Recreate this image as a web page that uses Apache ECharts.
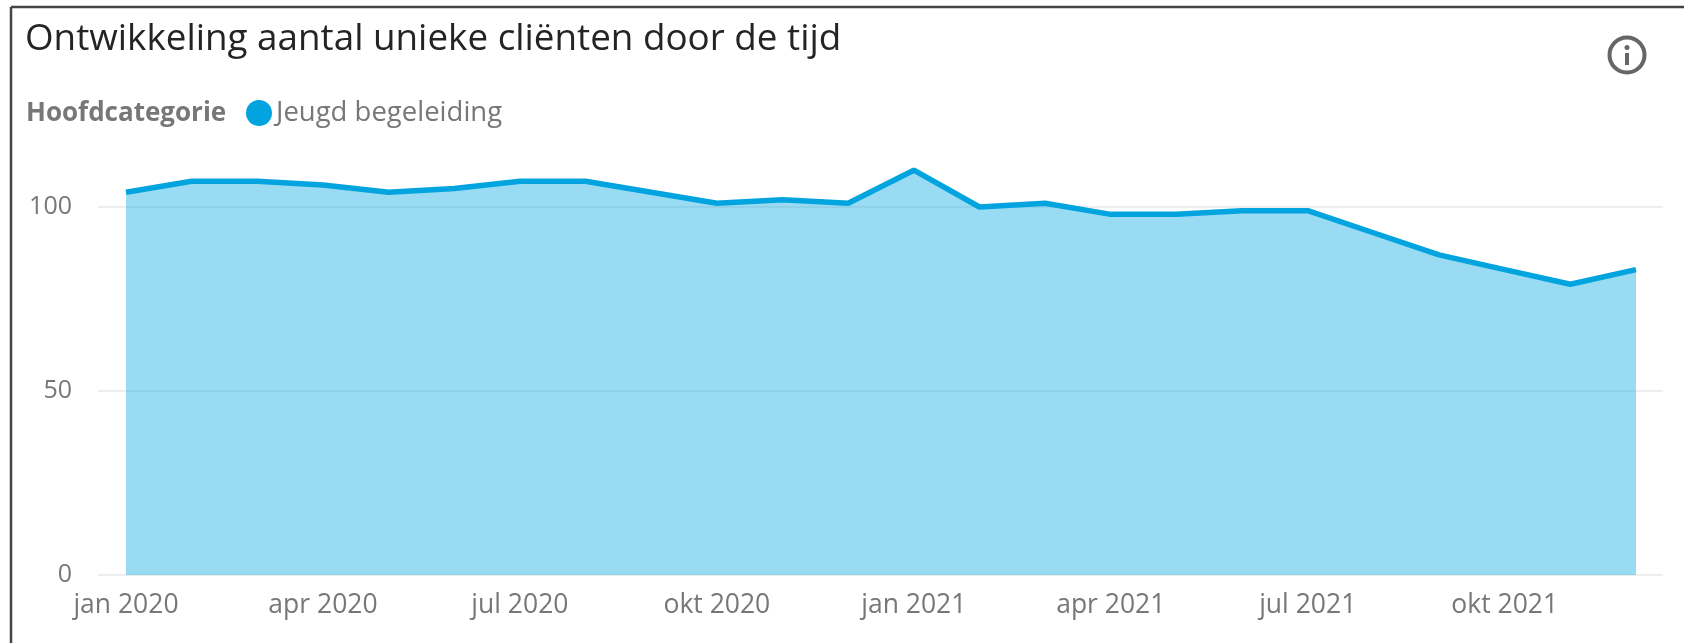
<!DOCTYPE html>
<html>
<head>
<meta charset="utf-8">
<style>
  html, body { margin: 0; padding: 0; background: #fff; }
  #chart { width: 1684px; height: 643px; }
</style>
<script src="https://cdn.jsdelivr.net/npm/echarts@6/dist/echarts.min.js"></script>
</head>
<body>
<div id="chart"></div>
<script>
const months = [
  'jan 2020', 'feb 2020', 'mrt 2020', 'apr 2020', 'mei 2020', 'jun 2020',
  'jul 2020', 'aug 2020', 'sep 2020', 'okt 2020', 'nov 2020', 'dec 2020',
  'jan 2021', 'feb 2021', 'mrt 2021', 'apr 2021', 'mei 2021', 'jun 2021',
  'jul 2021', 'aug 2021', 'sep 2021', 'okt 2021', 'nov 2021', 'dec 2021'
];
const clients = [104, 107, 107, 106, 104, 105, 107, 107, 104, 101, 102, 101,
  110, 100, 101, 98, 98, 99, 99, 93, 87, 83, 79, 83];

const seriesName = 'Jeugd begeleiding';
const titleText = 'Ontwikkeling aantal unieke cliënten door de tijd';
const legendTitle = 'Hoofdcategorie';

const font = '"Open Sans", "Noto Sans", sans-serif';
const blue = '#01a4de';
const grey = '#777777';

const chart = echarts.init(document.getElementById('chart'), null, { renderer: 'canvas' });

chart.setOption({
  animation: false,
  backgroundColor: '#ffffff',
  title: {
    text: titleText,
    left: 25,
    top: 21,
    padding: 0,
    textStyle: { fontFamily: font, fontSize: 36.8, fontWeight: 'normal', color: '#252423' }
  },
  legend: {
    data: [seriesName],
    left: 246,
    top: 99,
    padding: 0,
    icon: 'circle',
    itemWidth: 26,
    itemHeight: 26,
    itemGap: 4,
    textStyle: { fontFamily: font, fontSize: 27.5, color: grey, padding: [4, 0, 0, -1] }
  },
  // grid 0 has the y axis and the gridlines, which run wider than the data
  grid: [
    { left: 98, right: 21, top: 133.4, bottom: 68 },
    { left: 126, right: 48, top: 133.4, bottom: 68 }
  ],
  xAxis: [
    { gridIndex: 0, type: 'category', data: months, show: false },
    {
      gridIndex: 1,
      type: 'category',
      data: months,
      boundaryGap: false,
      axisLine: { show: false },
      axisTick: { show: false },
      splitLine: { show: false },
      axisLabel: {
        interval: 2,
        margin: 17,
        fontFamily: font,
        fontSize: 26.5,
        color: grey,
        showMinLabel: true,
        hideOverlap: false
      }
    }
  ],
  yAxis: [
    {
      gridIndex: 0,
      type: 'value',
      min: 0,
      max: 120,
      interval: 50,
      axisLine: { show: false },
      axisTick: { show: false },
      axisLabel: { margin: 26, fontFamily: font, fontSize: 25, color: grey, showMaxLabel: false, padding: [3, 0, 0, 0] },
      splitLine: { show: true, showMaxLine: false, lineStyle: { color: '#eeeeee', width: 2 } }
    },
    { gridIndex: 1, type: 'value', min: 0, max: 120, show: false }
  ],
  series: [
    {
      name: seriesName,
      type: 'line',
      xAxisIndex: 1,
      yAxisIndex: 1,
      data: clients,
      showSymbol: false,
      smooth: false,
      itemStyle: { color: blue },
      lineStyle: { color: blue, width: 5.5 },
      areaStyle: { color: blue, opacity: 0.4 }
    }
  ],
  graphic: [
    // frame of the visual
    { type: 'line', silent: true, shape: { x1: 11, y1: 7, x2: 1684, y2: 7 }, style: { stroke: '#444444', lineWidth: 2.5 } },
    { type: 'line', silent: true, shape: { x1: 11, y1: 7, x2: 11, y2: 643 }, style: { stroke: '#444444', lineWidth: 2.5 } },
    {
      type: 'text',
      silent: true,
      x: 26,
      y: 101,
      style: { text: legendTitle, fontFamily: font, fontSize: 26, fontWeight: 'bold', fill: grey }
    },
    // info icon
    { type: 'circle', silent: true, shape: { cx: 1627, cy: 55, r: 17.5 }, style: { fill: 'none', stroke: '#666666', lineWidth: 4 } },
    { type: 'rect', silent: true, shape: { x: 1625, y: 53, width: 4, height: 12 }, style: { fill: '#666666' } },
    { type: 'circle', silent: true, shape: { cx: 1627, cy: 47.5, r: 2.5 }, style: { fill: '#666666' } }
  ]
});
</script>
</body>
</html>
